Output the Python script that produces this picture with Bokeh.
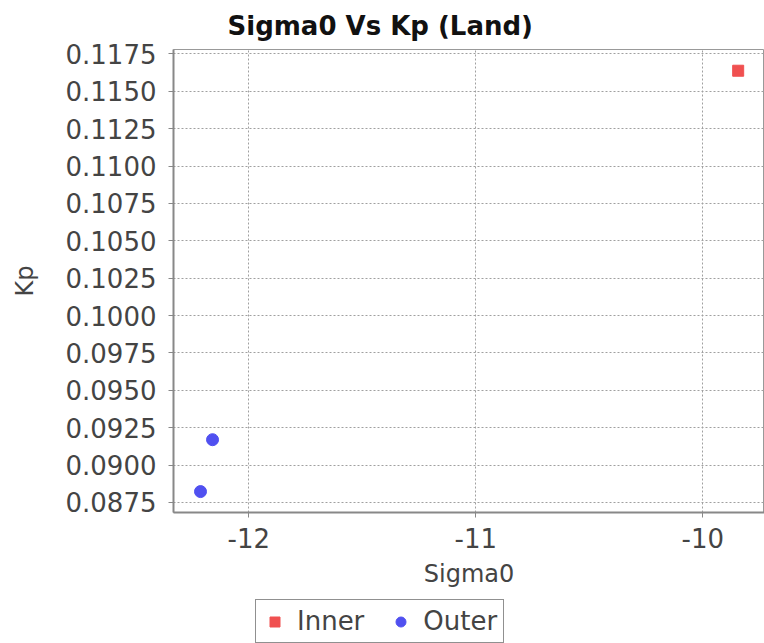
from bokeh.plotting import figure
from bokeh.layouts import column
from bokeh.models import FixedTicker, PrintfTickFormatter, Legend, LegendItem, Range1d
from bokeh.embed import file_html
from bokeh.resources import INLINE

# Data
inner_x = [-9.844]
inner_y = [0.11638]
outer_x = [-12.213, -12.160]
outer_y = [0.08823, 0.09170]

x_ticks = [-12, -11, -10]
y_ticks = [0.0875, 0.0900, 0.0925, 0.0950, 0.0975, 0.1000, 0.1025, 0.1050,
           0.1075, 0.1100, 0.1125, 0.1150, 0.1175]
series_names = ["Inner", "Outer"]

FONT = "DejaVu Sans"
TXT = "#444444"
RED = "#f05050"
BLUE = "#5050f0"
W = 764

p = figure(width=W, height=598, output_backend="svg", toolbar_location=None,
           x_range=Range1d(-12.332, -9.728), y_range=Range1d(0.08683, 0.1178),
           title="Sigma0 Vs Kp (Land)",
           x_axis_label="Sigma0", y_axis_label="Kp",
           min_border_left=173, min_border_right=0, min_border_top=48,
           min_border_bottom=86)

p.title.align = "left"
p.title.offset = 54
p.title.standoff = 17
p.title.text_font = FONT
p.title.text_font_size = "26px"
p.title.text_font_style = "bold"
p.title.text_color = "#111111"

p.background_fill_color = "white"
p.border_fill_color = "white"
p.outline_line_color = "#999999"
p.outline_line_width = 1

for ax in (p.xaxis[0], p.yaxis[0]):
    ax.axis_line_color = "#888888"
    ax.axis_line_width = 2
    ax.major_tick_line_color = "#888888"
    ax.major_tick_out = 5
    ax.major_tick_in = 0
    ax.minor_tick_line_color = None
    ax.major_label_text_font = FONT
    ax.major_label_text_font_size = "26px"
    ax.major_label_text_color = TXT
    ax.axis_label_text_font = FONT
    ax.axis_label_text_font_size = "24px"
    ax.axis_label_text_font_style = "normal"
    ax.axis_label_text_color = TXT

p.xaxis[0].ticker = FixedTicker(ticks=x_ticks)
p.xaxis[0].formatter = PrintfTickFormatter(format="%d")
p.xaxis[0].major_label_standoff = 10
p.xaxis[0].axis_label_standoff = 9
p.yaxis[0].ticker = FixedTicker(ticks=y_ticks)
p.yaxis[0].formatter = PrintfTickFormatter(format="%.4f")
p.yaxis[0].major_label_standoff = 12
p.yaxis[0].axis_label_standoff = 24

for g in (p.xgrid[0], p.ygrid[0]):
    g.grid_line_color = "#a0a0a0"
    g.grid_line_dash = "2 2"
    g.grid_line_width = 1

p.scatter(inner_x, inner_y, marker="square", size=11,
          fill_color=RED, line_color=RED)
p.scatter(outer_x, outer_y, marker="circle", size=12,
          fill_color=BLUE, line_color=BLUE)

# Legend row below the chart (its frame is aligned with the chart's frame)
pl = figure(width=W, height=45, output_backend="svg", toolbar_location=None,
            x_range=Range1d(0, 1), y_range=Range1d(0, 1),
            x_axis_type=None, y_axis_type=None,
            min_border_left=0, min_border_right=0, min_border_top=0,
            min_border_bottom=0)
pl.outline_line_color = None
pl.background_fill_color = "white"
pl.border_fill_color = "white"
# same series, outside this row's ranges: only their legend glyphs show
lr_in = pl.scatter(inner_x, inner_y, marker="square", size=10,
                   fill_color=RED, line_color=RED)
lr_out = pl.scatter(outer_x, outer_y, marker="circle", size=10,
                    fill_color=BLUE, line_color=BLUE)

legend = Legend(items=[LegendItem(label=series_names[0], renderers=[lr_in]),
                       LegendItem(label=series_names[1], renderers=[lr_out])],
                orientation="horizontal", location=(82, 0),
                label_text_font=FONT, label_text_font_size="26px",
                label_text_color=TXT, border_line_color="#222222",
                border_line_width=1, glyph_width=25, glyph_height=25,
                spacing=24, padding=6, margin=0, label_standoff=10,
                background_fill_color="white", background_fill_alpha=1)
pl.add_layout(legend)

open("out.html", "w").write(file_html(column(p, pl), INLINE))
